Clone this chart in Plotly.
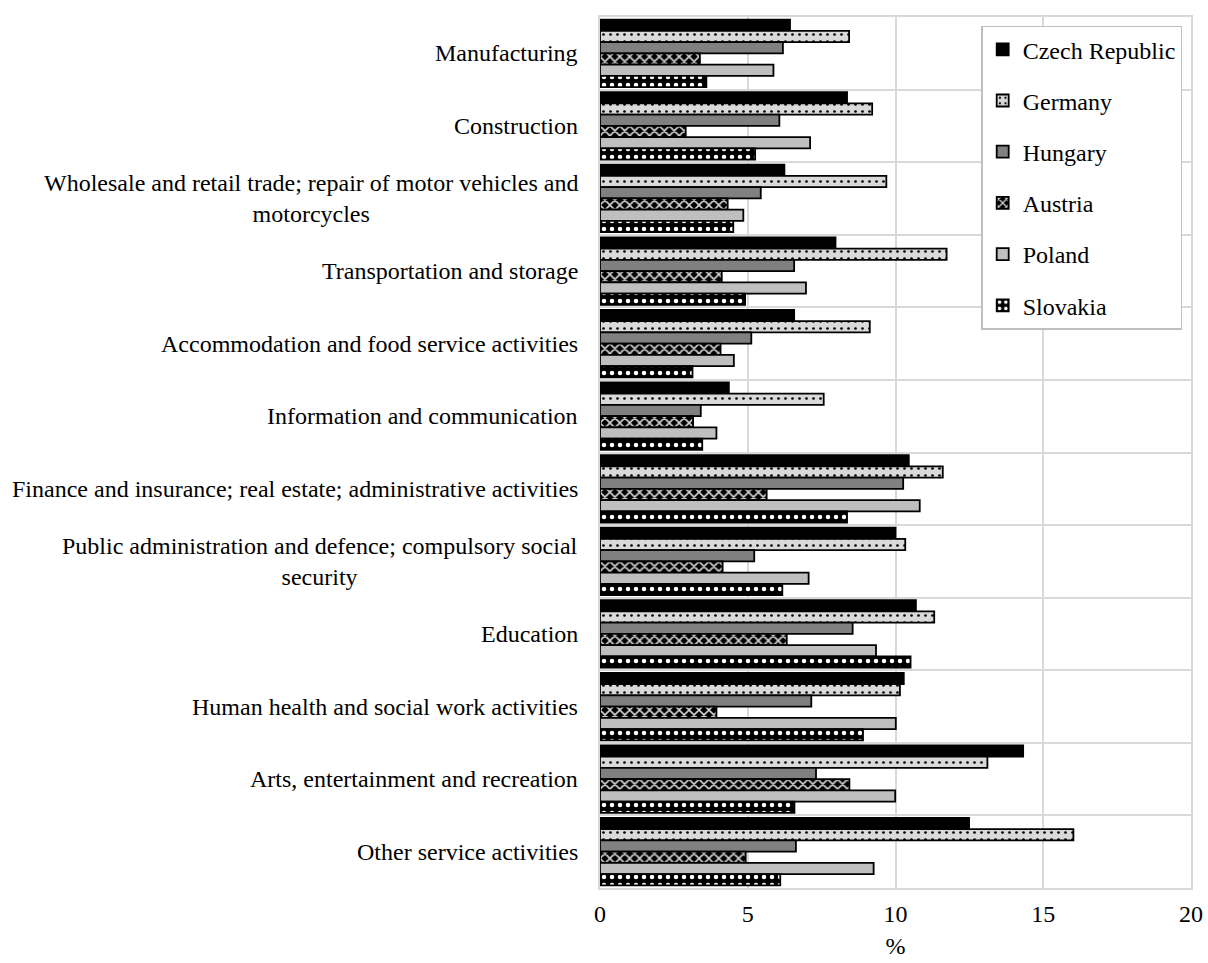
import plotly.graph_objects as go

categories = [
    "Manufacturing",
    "Construction",
    "Wholesale and retail trade; repair of motor vehicles and<br>motorcycles",
    "Transportation and storage",
    "Accommodation and food service activities",
    "Information and communication",
    "Finance and insurance; real estate; administrative activities",
    "Public administration and defence; compulsory social<br>security",
    "Education",
    "Human health and social work activities",
    "Arts, entertainment and recreation",
    "Other service activities",
]

czech    = [6.43, 8.36, 6.24, 7.97, 6.57, 4.36, 10.45, 10.00, 10.69, 10.28, 14.32, 12.49]
germany  = [8.43, 9.21, 9.69, 11.73, 9.13, 7.57, 11.60, 10.33, 11.31, 10.15, 13.11, 16.02]
hungary  = [6.19, 6.07, 5.44, 6.57, 5.12, 3.41, 10.26, 5.22, 8.55, 7.15, 7.31, 6.63]
austria  = [3.38, 2.90, 4.32, 4.12, 4.08, 3.15, 5.64, 4.15, 6.32, 3.94, 8.44, 4.93]
poland   = [5.87, 7.11, 4.85, 6.97, 4.53, 3.94, 10.82, 7.06, 9.34, 10.01, 9.99, 9.26]
slovakia = [3.60, 5.25, 4.51, 4.91, 3.13, 3.46, 8.36, 6.17, 10.51, 8.90, 6.58, 6.10]

x_ticks = [0, 5, 10, 15, 20]

FONT = "Liberation Serif, Times New Roman, serif"

series = [
    ("Czech Republic", czech, dict(color="black")),
    ("Germany", germany, dict(color="#d9d9d9",
        pattern=dict(shape=".", fgcolor="black", bgcolor="#d9d9d9", size=7, solidity=0.12, fillmode="replace"))),
    ("Hungary", hungary, dict(color="#808080")),
    ("Austria", austria, dict(color="black",
        pattern=dict(shape="x", fgcolor="#d4d4d4", bgcolor="black", size=7, solidity=0.4, fillmode="replace"))),
    ("Poland", poland, dict(color="#bfbfbf")),
    ("Slovakia", slovakia, dict(color="black",
        pattern=dict(shape=".", fgcolor="white", bgcolor="black", size=8, solidity=0.25, fillmode="replace"))),
]

fig = go.Figure()
for name, vals, mk in series:
    mk = dict(mk)
    mk["line"] = dict(color="black", width=1.8)
    fig.add_trace(go.Bar(
        y=categories, x=vals, name=name, orientation="h",
        marker=mk, legendgroup=name,
    ))

for c in categories:
    fig.add_annotation(
        x=0, xref="paper", y=c, yref="y", text=c, showarrow=False,
        xanchor="right", xshift=-20, align="center",
        font=dict(family=FONT, size=24, color="black"),
    )

fig.update_layout(
    width=1208, height=963,
    margin=dict(l=600, r=17, t=17, b=75),
    paper_bgcolor="white", plot_bgcolor="white",
    barmode="group", bargap=0.07, bargroupgap=0,
    font=dict(family=FONT, size=24, color="black"),
    legend=dict(
        x=0.645, y=0.99, xanchor="left", yanchor="top",
        bgcolor="white", bordercolor="#bfbfbf", borderwidth=1.5,
        font=dict(family=FONT, size=24, color="black"),
        tracegroupgap=17, itemwidth=30,
    ),
    showlegend=True,
)

fig.update_xaxes(
    range=[0, 20], tickvals=x_ticks, ticktext=[str(t) for t in x_ticks],
    showgrid=True, gridcolor="#d9d9d9", gridwidth=2,
    showline=True, linecolor="#d9d9d9", linewidth=2, mirror=True,
    zeroline=False, ticks="", ticklabelstandoff=3, automargin=False,
    tickfont=dict(family=FONT, size=24, color="black"),
    title=dict(text="%", font=dict(family=FONT, size=24, color="black"), standoff=11),
)
fig.update_yaxes(
    type="category", categoryorder="array", categoryarray=categories,
    autorange="reversed", tickson="boundaries", automargin=False,
    showgrid=True, gridcolor="#d9d9d9", gridwidth=2,
    showline=True, linecolor="#d9d9d9", linewidth=2, mirror=True,
    showticklabels=False, ticks="",
)

fig.write_html("out.html")
